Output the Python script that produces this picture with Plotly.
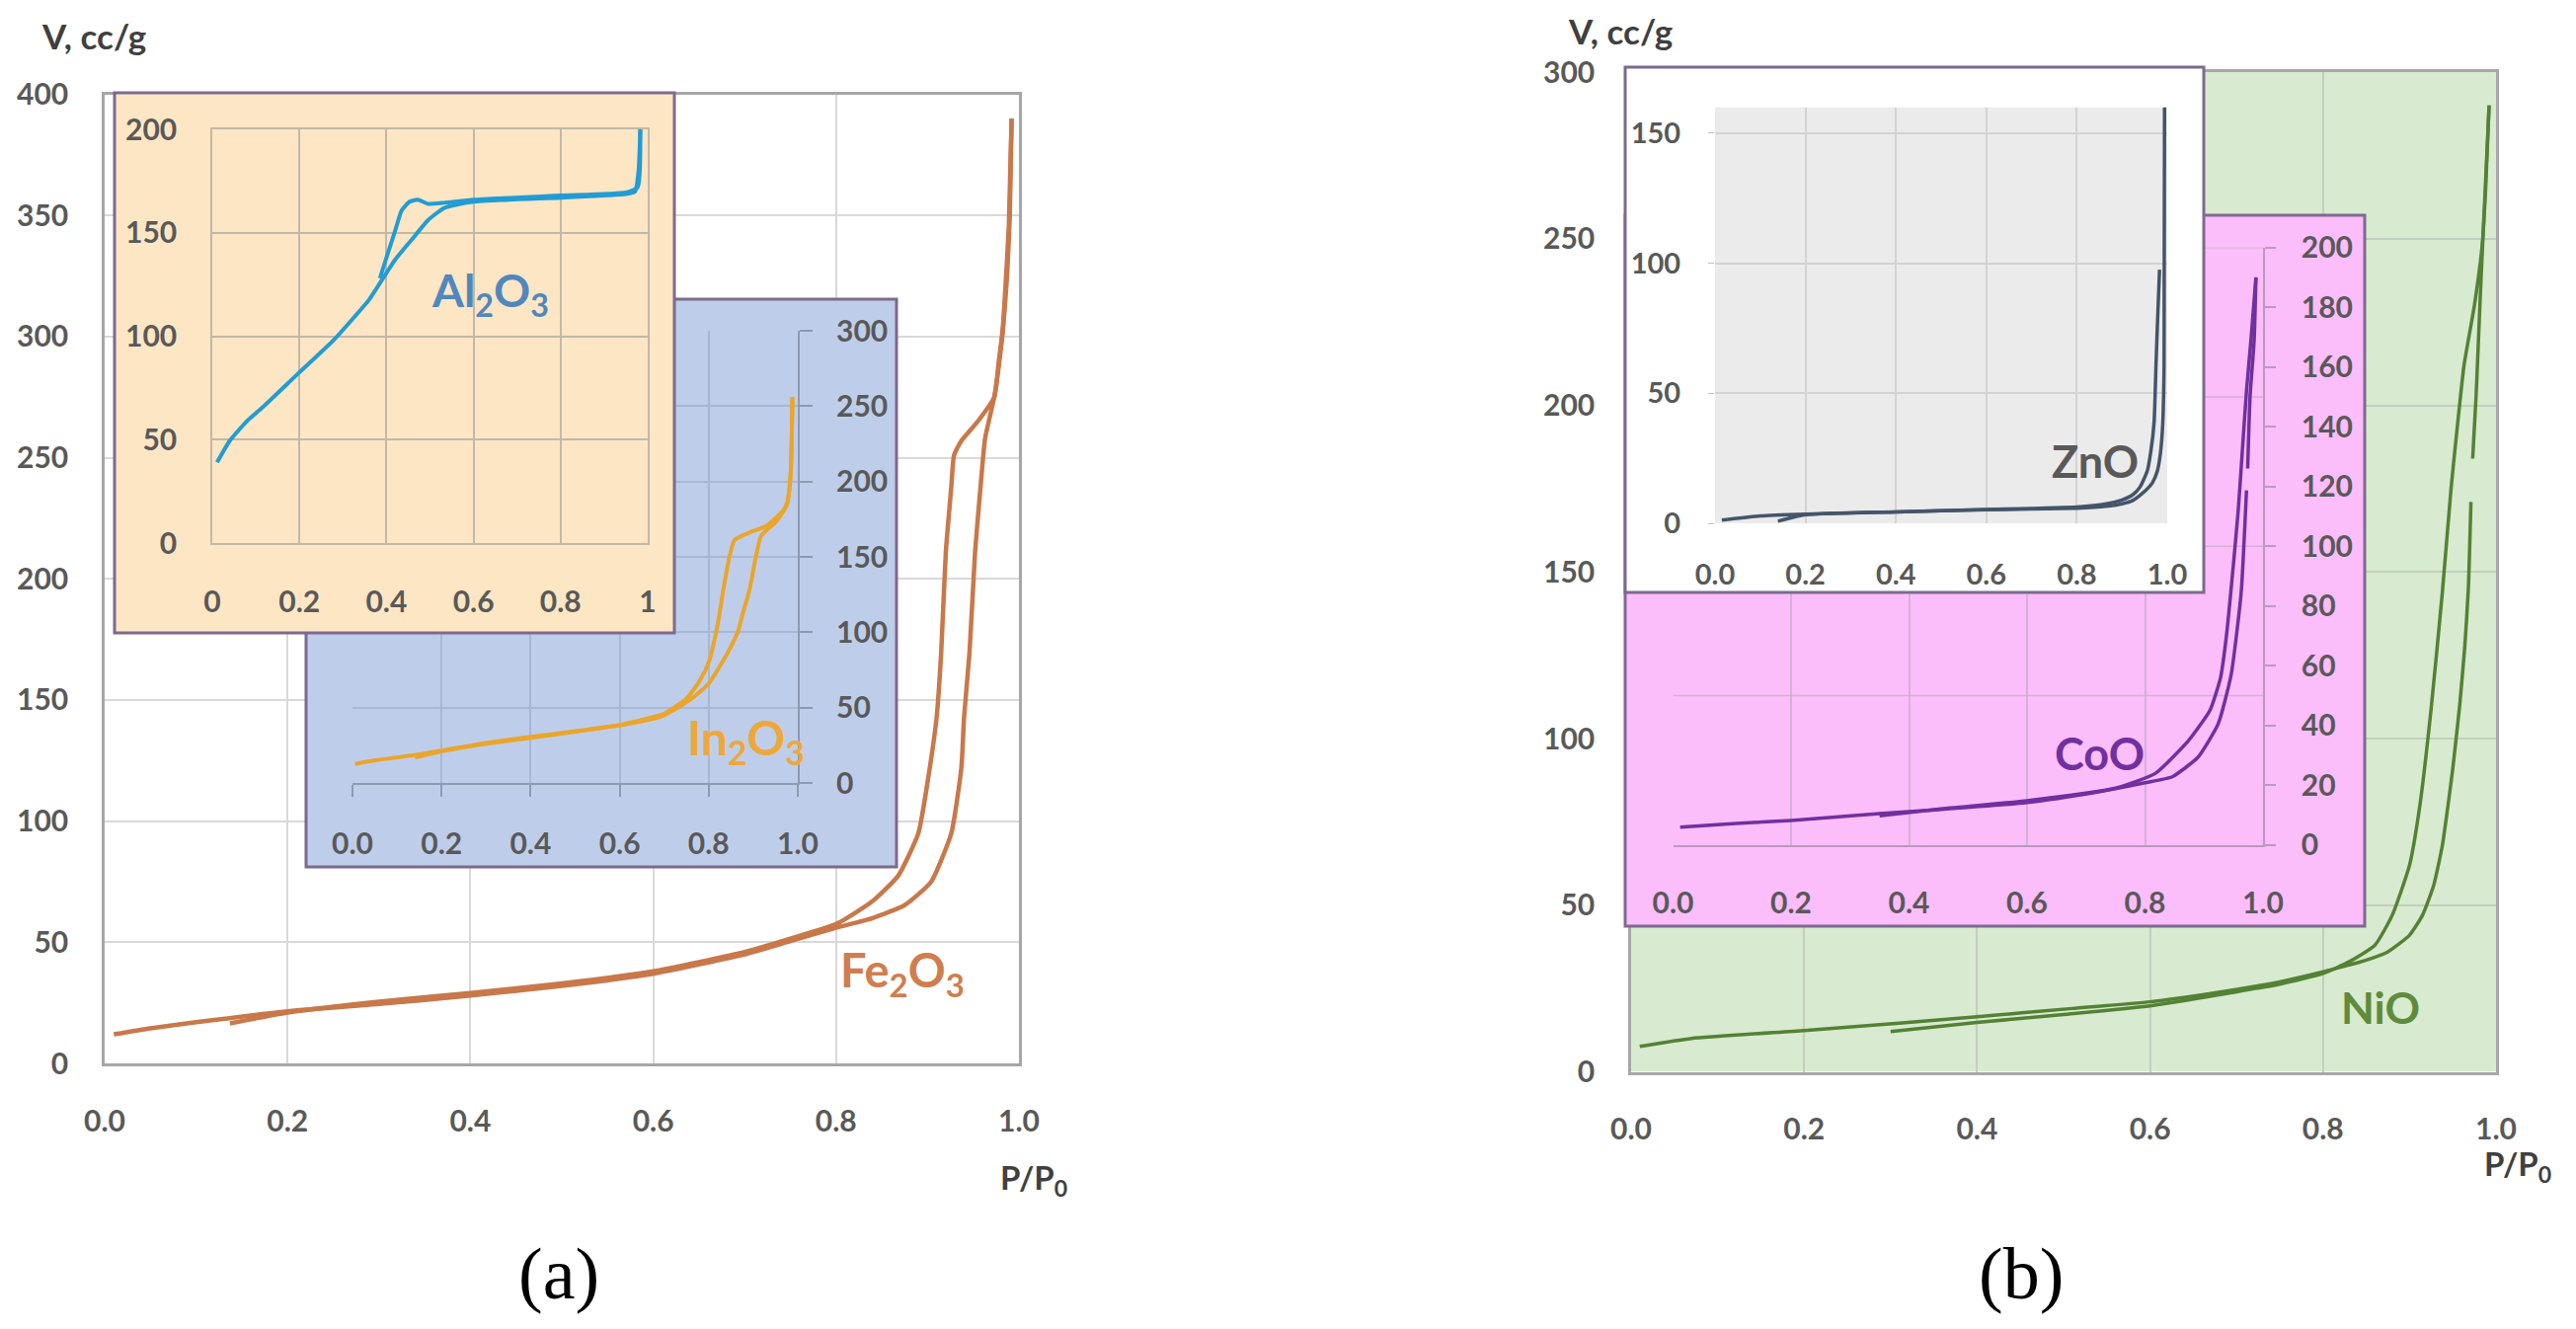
import plotly.graph_objects as go

W, H = 2609, 1346
OFF = 8  # page body margin that the browser adds around the figure

# ---------------- data ----------------
# Panel (a) main: Fe2O3
fe2o3_ads_p = [0.01, 0.05, 0.1, 0.2, 0.3, 0.4, 0.5, 0.6, 0.7, 0.75, 0.8, 0.84, 0.875, 0.904, 0.926, 0.937,
               0.94, 0.946, 0.952, 0.958, 0.963, 0.973, 0.978, 0.983, 0.987, 0.99, 0.992]
fe2o3_ads_v = [12, 14.5, 17, 21.5, 24.5, 28, 32, 37, 45, 50.5, 56, 60, 65.3, 75, 95, 122,
               143, 170, 211, 238, 258, 275, 288, 305, 325, 350, 390]
fe2o3_des_p = [0.992, 0.989, 0.985, 0.982, 0.978, 0.973, 0.955, 0.937, 0.929, 0.926, 0.92, 0.915, 0.91,
               0.9, 0.89, 0.868, 0.839, 0.8, 0.75, 0.7, 0.6, 0.5, 0.4, 0.3, 0.2, 0.137]
fe2o3_des_v = [390, 346, 319, 302, 290, 275, 265, 257, 251, 238, 211, 170, 143,
               116, 95, 77.5, 66.7, 57.5, 51.5, 46, 38, 33, 29, 25.5, 21, 16.5]

# Panel (a) inset: In2O3
in2o3_ads_p = [0.006, 0.05, 0.146, 0.3, 0.458, 0.614, 0.692, 0.739, 0.77, 0.8, 0.84, 0.865, 0.877, 0.892,
               0.906, 0.917, 0.929, 0.95, 0.965, 0.976, 0.984, 0.988]
in2o3_ads_v = [12.6, 15, 18.8, 26.6, 32.8, 39, 43.9, 51.5, 58, 66, 85, 100, 113, 128.6,
               150.4, 163.5, 167.5, 173, 179, 185, 205, 256]
in2o3_des_p = [0.988, 0.984, 0.976, 0.965, 0.929, 0.89, 0.858, 0.847, 0.833, 0.82, 0.8, 0.78, 0.75, 0.7,
               0.6, 0.5, 0.4, 0.3, 0.2, 0.14]
in2o3_des_v = [256, 205, 186, 180, 170.5, 166, 161.3, 150.6, 128.6, 105, 80, 68, 56, 46,
               38.5, 34, 30, 26, 21, 17]

# Panel (a) inset: Al2O3
al2o3_ads_p = [0.011, 0.04, 0.08, 0.12, 0.2, 0.28, 0.36, 0.38, 0.42, 0.457, 0.495, 0.533, 0.6, 0.8,
               0.95, 0.971, 0.979, 0.983]
al2o3_ads_v = [39, 49.4, 59, 66.5, 82.5, 98.4, 117.6, 124, 137, 146.4, 156, 162, 165, 167,
               168.7, 170, 180, 200]
al2o3_des_p = [0.983, 0.977, 0.95, 0.8, 0.6, 0.533, 0.495, 0.472, 0.453, 0.435, 0.42, 0.4, 0.385]
al2o3_des_v = [200, 172, 169.5, 168, 166, 164.5, 164, 166, 165, 160.8, 151, 138, 128]

# Panel (b) main: NiO
nio_ads_p = [0.01, 0.07, 0.2, 0.31, 0.4, 0.51, 0.6, 0.67, 0.75, 0.8, 0.85, 0.875, 0.9, 0.915, 0.928, 0.938,
             0.944, 0.95, 0.958, 0.964, 0.968, 0.971, None, 0.973, 0.977, 0.982, 0.987, 0.992]
nio_ads_v = [7.6, 10, 12.4, 14.6, 16.5, 19, 21, 23.5, 27, 30, 33.5, 36, 41, 47, 56, 68,
             79, 91, 110, 128, 145, 171, None, 184, 203, 234, 262, 290]
nio_des_p = [0.992, 0.988, 0.984, 0.975, 0.963, 0.955, 0.948, 0.938, 0.925, 0.912, 0.9, 0.88, 0.86, 0.83,
             0.8, 0.75, 0.7, 0.6, 0.5, 0.4, 0.3]
nio_des_v = [290, 265, 248, 230, 212, 193, 175, 144, 109, 80, 62, 47, 38, 33,
             29.5, 26.3, 24, 19.8, 17.2, 14.8, 12.1]

# Panel (b) inset: CoO
coo_ads_p = [0.012, 0.1, 0.2, 0.35, 0.45, 0.6, 0.716, 0.8, 0.846, 0.89, 0.924, 0.946, 0.963, 0.972, None,
             0.974, 0.978, 0.985, 0.988]
coo_ads_v = [5.9, 7.1, 8.2, 10.5, 11.8, 14.2, 17.6, 20.8, 22.8, 29.4, 40.5, 57, 84.5, 118.7, None,
             126, 150, 169, 190]
coo_des_p = [0.988, 0.98, 0.972, 0.966, 0.958, 0.948, 0.938, 0.928, 0.91, 0.874, 0.818, 0.75, 0.6, 0.45, 0.35]
coo_des_v = [190, 170, 152, 135, 112, 90, 70, 56, 45, 35, 24, 19, 14.8, 12, 9.7]
coo_grid_v = [50, 100, 150, 200]

# Panel (b) inset: ZnO
zno_ads_p = [0.015, 0.1, 0.2, 0.4, 0.6, 0.8, 0.865, 0.9, 0.924, 0.945, 0.96, 0.967, 0.978, 0.985, 0.99,
             0.993, 0.994]
zno_ads_v = [1.2, 2.8, 3.5, 4.4, 5.2, 5.8, 6.5, 7.5, 8.8, 11.5, 14, 15.5, 20, 27, 38, 60, 160]
zno_des_p = [0.983, 0.978, 0.975, 0.971, 0.964, 0.956, 0.94, 0.924, 0.9, 0.865, 0.8, 0.6, 0.4, 0.2, 0.139]
zno_des_v = [97.5, 75, 60, 39, 28, 20.2, 14, 11, 9, 7.5, 6.3, 5.3, 4.4, 3.3, 0.8]

# ---------------- helpers ----------------
FONT = "Lato, 'Open Sans', Arial, sans-serif"
TICK = dict(family=FONT, size=30, color="#595959", weight="bold")


def dx(l, r):
    return [(l - OFF) / W, (r - OFF) / W]


def dy(top, bottom):
    return [1 - (bottom - OFF) / H, 1 - (top - OFF) / H]


fig = go.Figure()
shapes = []
annotations = []
layout = {}


def add_curve(n, x, y, color, width):
    sx = "x" if n == 1 else f"x{n}"
    sy = "y" if n == 1 else f"y{n}"
    fig.add_trace(go.Scatter(x=x, y=y, mode="lines", xaxis=sx, yaxis=sy,
                             line=dict(color=color, width=width, shape="spline", smoothing=0.5),
                             connectgaps=False, showlegend=False, hoverinfo="skip"))


def add_box(n, L, T, R, B, fill, border="#7C6A8E", pad=4):
    fig.add_trace(go.Scatter(x=[None], y=[None], mode="lines", xaxis=f"x{n}", yaxis=f"y{n}",
                             showlegend=False, hoverinfo="skip"))
    layout[f"xaxis{n}"] = dict(domain=dx(L - pad, R + pad), range=[0, 1], visible=False,
                               anchor=f"y{n}", fixedrange=True, automargin=False)
    layout[f"yaxis{n}"] = dict(domain=dy(T - pad, B + pad), range=[0, 1], visible=False,
                               anchor=f"x{n}", fixedrange=True, automargin=False)
    fx = pad / (R - L + 2 * pad)
    fy = pad / (B - T + 2 * pad)
    shapes.append(dict(type="rect", xref=f"x{n}", yref=f"y{n}", x0=fx, x1=1 - fx, y0=fy, y1=1 - fy,
                       fillcolor=fill, line=dict(color=border, width=3), layer="below"))


def label(px, py, text, color, size=44, family=FONT, weight="bold"):
    annotations.append(dict(xref="paper", yref="paper", x=(px - OFF) / W, y=1 - (py - OFF) / H, text=text,
                            showarrow=False, xanchor="center", yanchor="middle",
                            font=dict(family=family, size=size, color=color, weight=weight)))


# ================= Panel (a) =================
# 1: main Fe2O3 axes
add_curve(1, fe2o3_ads_p, fe2o3_ads_v, "#C9784A", 4.5)
add_curve(1, fe2o3_des_p, fe2o3_des_v, "#C9784A", 4.5)
layout["xaxis"] = dict(domain=dx(106, 1032), range=[0, 1.0], dtick=0.2, tick0=0, tickformat=".1f",
                       showgrid=True, gridcolor="#D9D9D9", gridwidth=2, zeroline=False,
                       showline=True, linecolor="#A6A6A6", linewidth=2.5, mirror=True,
                       ticks="", ticklabelstandoff=30, tickfont=TICK, anchor="y", fixedrange=True,
                       automargin=False)
layout["yaxis"] = dict(domain=dy(95.5, 1077), range=[0, 400], dtick=50, tick0=0,
                       showgrid=True, gridcolor="#D9D9D9", gridwidth=2, zeroline=False,
                       showline=True, linecolor="#A6A6A6", linewidth=2.5, mirror=True,
                       ticks="", ticklabelstandoff=28, tickfont=TICK, anchor="x", fixedrange=True,
                       automargin=False)

# 2: In2O3 box, 3: In2O3 plot
add_box(2, 310, 303, 908, 878, "#BECEEA")
add_curve(3, in2o3_ads_p, in2o3_ads_v, "#EAA52B", 4)
add_curve(3, in2o3_des_p, in2o3_des_v, "#EAA52B", 4)
layout["xaxis3"] = dict(domain=dx(357, 808), range=[0, 1.0], dtick=0.2, tick0=0, tickformat=".1f",
                        showgrid=True, gridcolor="#A8B8D2", gridwidth=1.5, zeroline=False,
                        showline=True, linecolor="#8D9AB3", linewidth=2,
                        ticks="outside", ticklen=12, tickcolor="#8D9AB3", tickwidth=1.5,
                        ticklabelstandoff=22, tickfont=TICK, anchor="y3", fixedrange=True,
                        automargin=False)
layout["yaxis3"] = dict(domain=dy(335, 793), range=[0, 300], dtick=50, tick0=0, side="right",
                        showgrid=True, gridcolor="#A8B8D2", gridwidth=1.5, zeroline=False,
                        showline=True, linecolor="#8D9AB3", linewidth=2,
                        ticks="outside", ticklen=13, tickcolor="#8D9AB3", tickwidth=1.5,
                        ticklabelstandoff=18, tickfont=TICK, anchor="x3", fixedrange=True,
                        automargin=False)

# 4: Al2O3 box, 5: Al2O3 plot
add_box(4, 116, 94, 683, 641, "#FDE6C4")
add_curve(5, al2o3_ads_p, al2o3_ads_v, "#229CD4", 4)
add_curve(5, al2o3_des_p, al2o3_des_v, "#229CD4", 4)
layout["xaxis5"] = dict(domain=dx(215, 656), range=[0, 1], dtick=0.2, tick0=0,
                        showgrid=True, gridcolor="#C2B8A8", gridwidth=1.5, zeroline=False,
                        showline=True, linecolor="#C2B8A8", linewidth=1.5, mirror=True,
                        ticks="", ticklabelstandoff=32, tickfont=TICK, anchor="y5", fixedrange=True,
                        automargin=False)
layout["yaxis5"] = dict(domain=dy(131, 550), range=[0, 200], dtick=50, tick0=0,
                        showgrid=True, gridcolor="#C2B8A8", gridwidth=1.5, zeroline=False,
                        showline=True, linecolor="#C2B8A8", linewidth=1.5, mirror=True,
                        ticks="", ticklabelstandoff=28, tickfont=TICK, anchor="x5", fixedrange=True,
                        automargin=False)

# ================= Panel (b) =================
# 6: main NiO axes
add_curve(6, nio_ads_p, nio_ads_v, "#548235", 3.5)
add_curve(6, nio_des_p, nio_des_v, "#548235", 3.5)
shapes.append(dict(type="rect", xref="x6", yref="y6", x0=0, x1=1, y0=0, y1=300,
                   fillcolor="#D8EAD0", line=dict(width=0), layer="below"))
layout["xaxis6"] = dict(domain=dx(1652, 2528), range=[0, 1.0], dtick=0.2, tick0=0, tickformat=".1f",
                        showgrid=True, gridcolor="#C3CFBE", gridwidth=2, zeroline=False,
                        showline=True, linecolor="#A8A8A8", linewidth=2.5, mirror=True,
                        ticks="", ticklabelstandoff=30, tickfont=TICK, anchor="y6", fixedrange=True,
                        automargin=False)
layout["yaxis6"] = dict(domain=dy(73, 1085.5), range=[0, 300], dtick=50, tick0=0,
                        showgrid=True, gridcolor="#C3CFBE", gridwidth=2, zeroline=False,
                        showline=True, linecolor="#A8A8A8", linewidth=2.5, mirror=True,
                        ticks="", ticklabelstandoff=28, tickfont=TICK, anchor="x6", fixedrange=True,
                        automargin=False)

# 7: CoO box, 8: CoO plot
add_box(7, 1646, 218, 2395, 938, "#FCBDFB")
for gv in coo_grid_v:
    shapes.append(dict(type="line", xref="x8", yref="y8", x0=0, x1=1, y0=gv, y1=gv,
                       line=dict(color="rgba(200,175,205,0.8)", width=1.5), layer="below"))
add_curve(8, coo_ads_p, coo_ads_v, "#7030A0", 3.5)
add_curve(8, coo_des_p, coo_des_v, "#7030A0", 3.5)
layout["xaxis8"] = dict(domain=dx(1694.5, 2292), range=[0, 1.0], dtick=0.2, tick0=0, tickformat=".1f",
                        showgrid=True, gridcolor="rgba(200,175,205,0.8)", gridwidth=1.5, zeroline=False,
                        showline=True, linecolor="#B99AC0", linewidth=1.5,
                        ticks="", ticklabelstandoff=32, tickfont=TICK, anchor="y8", fixedrange=True,
                        automargin=False)
layout["yaxis8"] = dict(domain=dy(250.7, 855.7), range=[0, 200], dtick=20, tick0=0, side="right",
                        showgrid=False, zeroline=False,
                        showline=True, linecolor="#B99AC0", linewidth=1.5,
                        ticks="outside", ticklen=11, tickcolor="#B99AC0", tickwidth=1.5,
                        ticklabelstandoff=20, tickfont=TICK, anchor="x8", fixedrange=True,
                        automargin=False)

# 9: ZnO box, 10: ZnO plot
add_box(9, 1646, 68, 2232, 600, "#FFFFFF")
shapes.append(dict(type="rect", xref="x10", yref="y10", x0=0, x1=1, y0=0, y1=160,
                   fillcolor="#EBEBEB", line=dict(width=0), layer="below"))
add_curve(10, zno_ads_p, zno_ads_v, "#44546A", 3.5)
add_curve(10, zno_des_p, zno_des_v, "#44546A", 3.5)
layout["xaxis10"] = dict(domain=dx(1737, 2195), range=[0, 1.0], dtick=0.2, tick0=0, tickformat=".1f",
                         showgrid=True, gridcolor="#D3D3D3", gridwidth=1.5, zeroline=False,
                         showline=False, ticks="", ticklabelstandoff=32,
                         tickfont=dict(TICK, size=29), anchor="y10", fixedrange=True, automargin=False)
layout["yaxis10"] = dict(domain=dy(108.5, 530), range=[0, 160], dtick=50, tick0=0,
                         showgrid=True, gridcolor="#D3D3D3", gridwidth=1.5, zeroline=False,
                         showline=False, ticks="outside", ticklen=6, tickcolor="#BFBFBF",
                         ticklabelstandoff=22, tickfont=dict(TICK, size=29), anchor="x10",
                         fixedrange=True, automargin=False)

# ---------------- text labels ----------------
label(496, 297, "Al<sub>2</sub>O<sub>3</sub>", "#5087BE", 46)
label(755, 750, "In<sub>2</sub>O<sub>3</sub>", "#EEA83A", 48)
label(914, 985, "Fe<sub>2</sub>O<sub>3</sub>", "#D07E4F", 47)
label(2411, 1020, "NiO", "#5E8C3C", 44)
label(2126, 763, "CoO", "#7030A0", 45)
label(2122, 467, "ZnO", "#595959", 45)

label(95, 36, "V, cc/g", "#404040", 35)
label(1641, 31, "V, cc/g", "#404040", 35)
label(1047, 1194, "P/P<sub>0</sub>", "#404040", 33)
label(2550, 1180, "P/P<sub>0</sub>", "#404040", 33)

label(566, 1290, "(a)", "#000000", 74, family="'Liberation Serif', 'Times New Roman', serif", weight="normal")
label(2047, 1290, "(b)", "#000000", 74, family="'Liberation Serif', 'Times New Roman', serif", weight="normal")

fig.update_layout(**layout)
fig.update_layout(width=W, height=H, autosize=False,
                  margin=dict(l=0, r=0, t=0, b=0, pad=0, autoexpand=False),
                  paper_bgcolor="white", plot_bgcolor="rgba(0,0,0,0)", showlegend=False,
                  shapes=shapes, annotations=annotations, font=dict(family=FONT))

fig.write_html("out.html")
